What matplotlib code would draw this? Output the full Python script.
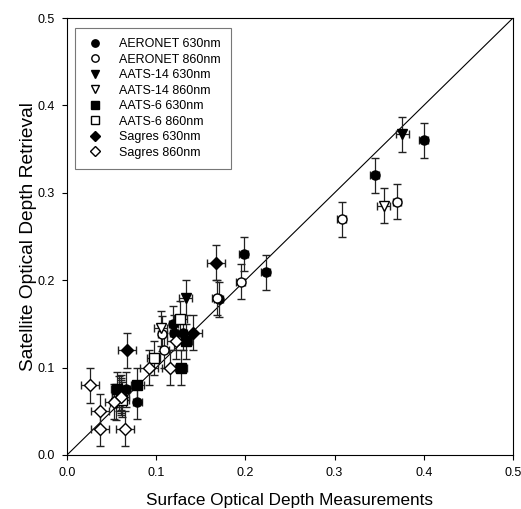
import numpy             as np
import matplotlib.pyplot as plt
from   matplotlib.lines  import Line2D

plt.rcParams['font.family'] = ['Liberation Sans', 'DejaVu Sans']

# ---- data ----
aeronet630_x = [0.400, 0.345, 0.198, 0.223, 0.170, 0.119, 0.120, 0.130, 0.079, 0.061, 0.066]
aeronet630_y = [0.360, 0.320, 0.230, 0.209, 0.178, 0.150, 0.140, 0.140, 0.061, 0.072, 0.075]

aeronet860_x = [0.370, 0.308, 0.195, 0.168, 0.107, 0.109, 0.060]
aeronet860_y = [0.290, 0.270, 0.198, 0.180, 0.139, 0.120, 0.068]

aats14_630_x = [0.376, 0.133, 0.058]
aats14_630_y = [0.367, 0.180, 0.070]

aats14_860_x = [0.355, 0.105, 0.055]
aats14_860_y = [0.285, 0.145, 0.060]

aats6_630_x  = [0.133, 0.128, 0.079, 0.056]
aats6_630_y  = [0.130, 0.100, 0.080, 0.075]

aats6_860_x  = [0.127, 0.097, 0.062]
aats6_860_y  = [0.156, 0.111, 0.063]

sagres630_x  = [0.167, 0.141, 0.067]
sagres630_y  = [0.220, 0.140, 0.120]

sagres860_x  = [0.122, 0.092, 0.116, 0.026, 0.037, 0.037, 0.065, 0.060, 0.053]
sagres860_y  = [0.130, 0.100, 0.100, 0.080, 0.050, 0.030, 0.030, 0.066, 0.061]

labels = ["AERONET 630nm", "AERONET 860nm", "AATS-14 630nm", "AATS-14 860nm",
          "AATS-6 630nm",  "AATS-6 860nm",  "Sagres 630nm",  "Sagres 860nm"]

series = [
    (aeronet630_x, aeronet630_y, 0.005, 'o', 'k'),
    (aeronet860_x, aeronet860_y, 0.005, 'o', 'w'),
    (aats14_630_x, aats14_630_y, 0.007, 'v', 'k'),
    (aats14_860_x, aats14_860_y, 0.007, 'v', 'w'),
    (aats6_630_x,  aats6_630_y,  0.007, 's', 'k'),
    (aats6_860_x,  aats6_860_y,  0.007, 's', 'w'),
    (sagres630_x,  sagres630_y,  0.010, 'D', 'k'),
    (sagres860_x,  sagres860_y,  0.010, 'D', 'w'),
]
yerr = 0.02

fig = plt.figure(figsize=(5.21, 5.09), dpi=100)
ax0 = fig.add_axes([0.1286, 0.1061, 0.856, 0.8585])

ax0.plot([0.0, 0.5], [0.0, 0.5], color='k', linewidth=0.8, zorder=1)

handles = []
for (xs, ys, xe, mk, fc), lab in zip(series, labels):
    ms = 6.0 if mk == 'D' else 6.5
    ax0.errorbar(xs, ys, xerr=xe, yerr=yerr, fmt=mk, ms=ms,
                 mfc=fc, mec='k', mew=1.0,
                 ecolor='#222222', elinewidth=0.9, capsize=3, capthick=0.9, zorder=3)
    handles.append(Line2D([], [], linestyle='none', marker=mk, ms=ms - 1.2,
                          mfc=fc, mec='k', mew=1.0))

leg = ax0.legend(handles, labels, loc='upper left', bbox_to_anchor=(0.010, 0.985),
                 fontsize=9, frameon=True, fancybox=False, edgecolor='#555555',
                 labelspacing=0.28, handletextpad=1.2, borderpad=0.8,
                 borderaxespad=0.3, handlelength=1.5)
leg.get_frame().set_linewidth(0.8)

ax0.set_xlim(0.0, 0.5)
ax0.set_ylim(0.0, 0.5)
ax0.set_xticks(np.arange(0.0, 0.51, 0.1))
ax0.set_yticks(np.arange(0.0, 0.51, 0.1))
ax0.xaxis.set_major_formatter(plt.FormatStrFormatter('%.1f'))
ax0.yaxis.set_major_formatter(plt.FormatStrFormatter('%.1f'))
ax0.tick_params(direction='out', length=3.6, width=0.8, labelsize=9, pad=5)

ax0.set_xlabel("Surface Optical Depth Measurements", fontsize=12.3, labelpad=10)
ax0.set_ylabel("Satellite Optical Depth Retrieval",  fontsize=13.8, labelpad=0.5)

for s in ax0.spines.values():
    s.set_linewidth(0.8)

plt.savefig("out.png", dpi=100)
